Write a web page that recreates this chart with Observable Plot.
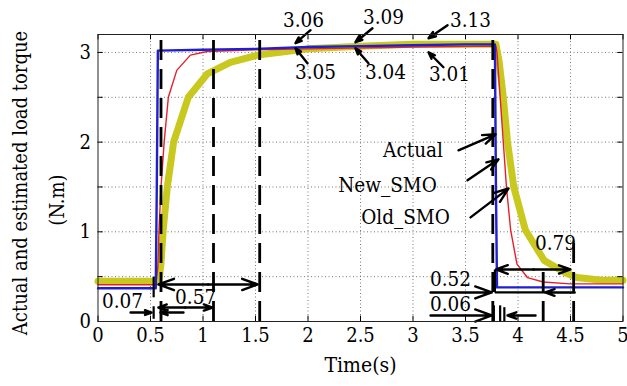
<!DOCTYPE html>
<html><head><meta charset="utf-8">
<script src="https://cdn.jsdelivr.net/npm/d3@7"></script>
<script src="https://cdn.jsdelivr.net/npm/@observablehq/plot@0.6"></script>
<style>body{margin:0;background:#fff;} svg text{font-family:"DejaVu Serif Condensed","DejaVu Serif",serif !important; font-stretch:condensed;}</style>
</head><body><div id="chart"></div>
<script>
// ---- series (time in s, torque in N.m) ----
const actualT = [0, 0.55, 0.56, 0.57, 1.0, 1.5, 2.0, 2.5, 3.0, 3.5, 3.78, 3.79, 3.80, 5];
const actualV = [0.37, 0.37, 1.5, 3.02, 3.03, 3.04, 3.06, 3.07, 3.08, 3.09, 3.09, 1.5, 0.38, 0.38];

const newSmoT = [0, 0.55, 0.57, 0.58, 0.60, 0.63, 0.67, 0.75, 0.88, 1.04, 1.5, 2, 3, 3.79, 3.80, 3.83, 3.86, 3.89, 3.93, 3.99, 4.09, 4.24, 4.5, 5];
const newSmoV = [0.41, 0.41, 0.6, 1.0, 1.5, 2.0, 2.5, 2.8, 2.97, 3.01, 3.03, 3.04, 3.06, 3.07, 3.0, 2.5, 2.0, 1.5, 1.02, 0.64, 0.49, 0.44, 0.42, 0.42];

const oldSmoT = [0, 0.58, 0.60, 0.62, 0.66, 0.72, 0.86, 1.04, 1.26, 1.52, 2.0, 2.5, 3.0, 3.5, 3.79, 3.82, 3.86, 3.90, 3.96, 4.07, 4.25, 4.44, 4.56, 4.8, 5];
const oldSmoV = [0.45, 0.45, 0.65, 1.01, 1.5, 2.0, 2.5, 2.76, 2.89, 2.97, 3.04, 3.07, 3.09, 3.09, 3.09, 2.9, 2.5, 2.0, 1.5, 1.02, 0.68, 0.55, 0.49, 0.46, 0.46];

// ---- axes ----
const xTicks = [0, 0.5, 1, 1.5, 2, 2.5, 3, 3.5, 4, 4.5, 5];
const xTickLabels = ["0", "0.5", "1", "1.5", "2", "2.5", "3", "3.5", "4", "4.5", "5"];
const yGrid = [0, 0.5, 1, 1.5, 2, 2.5, 3];
const yTicks = [0, 1, 2, 3];
const yTickLabels = ["0", "1", "2", "3"];
const xLabel = "Time(s)";
const yLabelLines = ["Actual and estimated load torque", "(N.m)"];

// ---- annotations (data coordinates) ----
const guideTimes = [0.6, 1.1, 1.54, 3.76];          // full-height dashed lines
const shortGuideTimes = [4.24, 4.53];
const shortGuideTops = [0.55, 0.95];

const annText = ["3.06", "3.05", "3.09", "3.04", "3.13", "3.01",
                 "Actual", "New_SMO", "Old_SMO",
                 "0.07", "0.57", "0.79", "0.52", "0.06"];
const annX = [1.957, 2.071, 2.719, 2.738, 3.548, 3.348,
              3.00, 2.757, 2.929,
              0.233, 0.93, 4.357, 3.357, 3.357];
const annY = [3.36, 2.78, 3.39, 2.78, 3.36, 2.76,
              1.91, 1.52, 1.16,
              0.223, 0.268, 0.871, 0.47, 0.195];

// arrows: [x1, y1, x2, y2] (head at x2,y2)
const arrowList = [
  [2.024, 3.248, 1.881, 3.103], [1.995, 2.879, 1.881, 3.047],
  [2.614, 3.270, 2.452, 3.114], [2.576, 2.879, 2.452, 3.047],
  [3.329, 3.304, 3.148, 3.158], [3.29, 2.835, 3.148, 3.002],
  [3.433, 1.908, 3.786, 2.087], [3.519, 1.574, 3.814, 1.808], [3.548, 1.161, 3.91, 1.484],
  [0.31, 0.10, 0.51, 0.10], [0.814, 0.10, 0.595, 0.10],
  [1.05, 0.413, 0.575, 0.413], [1.05, 0.413, 1.52, 0.413],
  [0.83, 0.156, 0.575, 0.156], [0.83, 0.156, 1.09, 0.156],
  [4.15, 0.58, 3.79, 0.58], [4.15, 0.58, 4.5, 0.58],
  [3.167, 0.324, 3.75, 0.324], [4.54, 0.324, 4.26, 0.324],
  [3.167, 0.067, 3.75, 0.067], [4.167, 0.067, 3.9, 0.067]
];
// plain segments: [x1, y1, x2, y2]
const segmentList = [
  [3.78, 0.58, 3.78, 0.324], [3.78, 0.324, 4.26, 0.324],
  [3.77, 0, 3.77, 0.18], [3.83, 0, 3.83, 0.18], [3.87, 0, 3.87, 0.16],
  [0.53, 0.27, 0.53, 0.5], [0.53, 0.03, 0.53, 0.17], [0.6, 0.03, 0.6, 0.17]
];

// ---- build tables ----
const toRows = (T, V) => T.map((t, i) => ({t, v: V[i]}));
const actual = toRows(actualT, actualV);
const newSmo = toRows(newSmoT, newSmoV);
const oldSmo = toRows(oldSmoT, oldSmoV);
const anns = annText.map((s, i) => ({s, x: annX[i], y: annY[i]}));
const arrows = arrowList.map(([x1, y1, x2, y2]) => ({x1, y1, x2, y2}));
const segs = segmentList.map(([x1, y1, x2, y2]) => ({x1, y1, x2, y2}));
const shortGuides = shortGuideTimes.map((t, i) => ({t, top: shortGuideTops[i]}));

const font = "'DejaVu Serif Condensed', 'DejaVu Serif', serif";
const chart = Plot.plot({
  width: 627,
  height: 386,
  marginLeft: 97.5,
  marginRight: 4.5,
  marginTop: 34,
  marginBottom: 65,
  style: {fontFamily: font, fontSize: "20px", background: "white", color: "black", overflow: "visible"},
  x: {domain: [0, 5]},
  y: {domain: [0, 3.2]},
  marks: [
    Plot.gridX(xTicks.slice(1, -1), {stroke: "#777", strokeOpacity: 1, strokeDasharray: "1,2.5"}),
    Plot.gridY(yGrid.slice(1), {stroke: "#777", strokeOpacity: 1, strokeDasharray: "1,2.5"}),
    Plot.line(oldSmo, {x: "t", y: "v", stroke: "#c8c81e", strokeWidth: 7, strokeLinejoin: "round"}),
    Plot.line(newSmo, {x: "t", y: "v", stroke: "#e4202c", strokeWidth: 1.4}),
    Plot.line(actual, {x: "t", y: "v", stroke: "#1f1fd0", strokeWidth: 2.4}),
    Plot.ruleX(guideTimes, {y1: 0, y2: 3.2, stroke: "black", strokeWidth: 2.8, strokeDasharray: "20,9"}),
    Plot.ruleX(shortGuides, {x: "t", y1: 0, y2: "top", stroke: "black", strokeWidth: 2.8, strokeDasharray: "20,9"}),
    Plot.link(segs, {x1: "x1", y1: "y1", x2: "x2", y2: "y2", stroke: "black", strokeWidth: 2.2}),
    Plot.arrow(arrows, {x1: "x1", y1: "y1", x2: "x2", y2: "y2", stroke: "black", strokeWidth: 2.4, headLength: 11, headAngle: 40}),
    Plot.text(anns, {x: "x", y: "y", text: "s", fill: "black", fontSize: 20.5}),
    // inside tick marks (MATLAB box)
    Plot.ruleX(xTicks, {y1: 0, y2: 0.06, stroke: "black"}),
    Plot.ruleX(xTicks, {y1: 3.14, y2: 3.2, stroke: "black"}),
    Plot.ruleY(yGrid, {x1: 0, x2: 0.05, stroke: "black"}),
    Plot.ruleY(yGrid, {x1: 4.95, x2: 5, stroke: "black"}),
    Plot.frame({stroke: "#222"}),
    Plot.axisX(xTicks, {tickSize: 0, tickPadding: 6, tickFormat: d => xTickLabels[xTicks.indexOf(d)], fontSize: 20, label: null}),
    Plot.axisY(yTicks, {tickSize: 0, tickPadding: 7, tickFormat: d => yTickLabels[yTicks.indexOf(d)], fontSize: 20, label: null}),
    Plot.text([xLabel], {frameAnchor: "bottom", dy: 50, fontSize: 21, fill: "black"}),
    Plot.text([yLabelLines[0]], {frameAnchor: "left", textAnchor: "middle", dx: -77, dy: 5, rotate: -90, fontSize: 20, fill: "black"}),
    Plot.text([yLabelLines[1]], {frameAnchor: "left", textAnchor: "middle", dx: -40, dy: 22, rotate: -90, fontSize: 20, fill: "black"})
  ]
});
document.getElementById("chart").appendChild(chart);
</script>
</body></html>
